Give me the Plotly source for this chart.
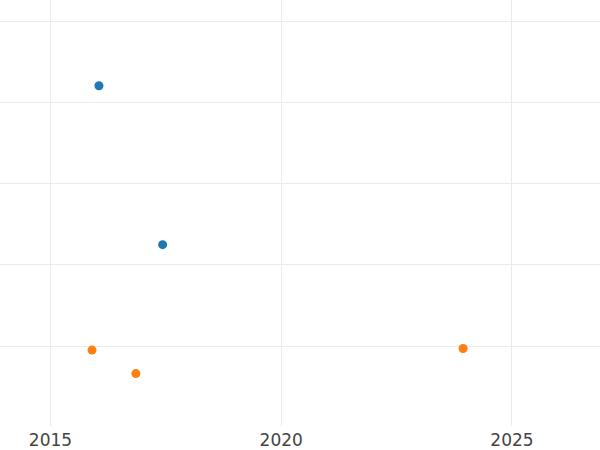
import plotly.graph_objects as go

series_a_x = [2016.05, 2017.43]
series_a_y = [4.21, 2.25]
series_b_x = [2015.90, 2016.85, 2023.94]
series_b_y = [0.95, 0.66, 0.97]

x_ticks = [2015, 2020, 2025]
y_ticks = [1, 2, 3, 4, 5]

fig = go.Figure()
fig.add_trace(go.Scatter(x=series_a_x, y=series_a_y, mode="markers",
                         marker=dict(color="#1f77b4", size=9), name="A"))
fig.add_trace(go.Scatter(x=series_b_x, y=series_b_y, mode="markers",
                         marker=dict(color="#ff7f0e", size=9), name="B"))

fig.update_layout(
    width=600, height=450,
    margin=dict(l=0, r=0, t=0, b=24),
    paper_bgcolor="white", plot_bgcolor="white",
    showlegend=False,
    font=dict(family="DejaVu Sans", size=17, color="#444"),
)
fig.update_xaxes(range=[2013.906, 2026.907], tickvals=x_ticks,
                 ticktext=[str(v) for v in x_ticks],
                 showgrid=True, gridcolor="#ebebeb", gridwidth=1,
                 zeroline=False, showline=False, ticks="", automargin=False,
                 ticklabelstandoff=2)
fig.update_yaxes(range=[0.0135, 5.268], tickvals=y_ticks,
                 showticklabels=False,
                 showgrid=True, gridcolor="#ebebeb", gridwidth=1,
                 zeroline=False, showline=False, ticks="", automargin=False)

fig.write_html("out.html", config={"displayModeBar": False},
               post_script="document.body.style.margin='0';document.body.style.overflow='hidden';")
